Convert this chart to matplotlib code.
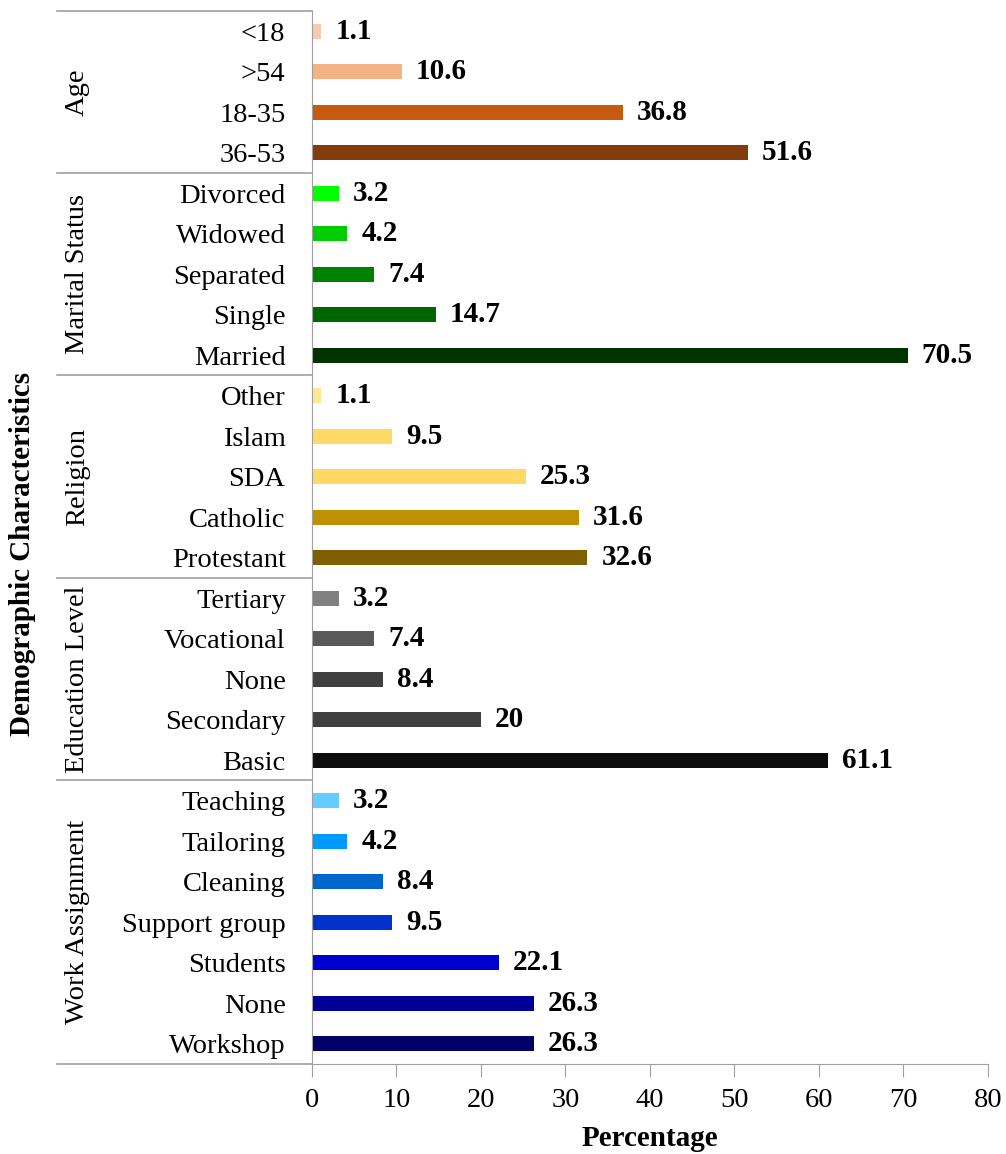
import matplotlib.pyplot as plt
import matplotlib.transforms as mtransforms

plt.rcParams['font.family'] = ['Liberation Serif', 'DejaVu Serif']

# data, top to bottom
groups = ['Age', 'Marital Status', 'Religion', 'Education Level', 'Work Assignment']
age_labels = ['<18', '>54', '18-35', '36-53']
age_values = [1.1, 10.6, 36.8, 51.6]
marital_labels = ['Divorced', 'Widowed', 'Separated', 'Single', 'Married']
marital_values = [3.2, 4.2, 7.4, 14.7, 70.5]
religion_labels = ['Other', 'Islam', 'SDA', 'Catholic', 'Protestant']
religion_values = [1.1, 9.5, 25.3, 31.6, 32.6]
education_labels = ['Tertiary', 'Vocational', 'None', 'Secondary', 'Basic']
education_values = [3.2, 7.4, 8.4, 20, 61.1]
work_labels = ['Teaching', 'Tailoring', 'Cleaning', 'Support group', 'Students', 'None', 'Workshop']
work_values = [3.2, 4.2, 8.4, 9.5, 22.1, 26.3, 26.3]

age_colors = ['#F8CBAD', '#F4B183', '#C55A11', '#843C0C']
marital_colors = ['#00FF00', '#00CC00', '#008000', '#006600', '#003300']
religion_colors = ['#FFE699', '#FFD966', '#FFD966', '#BF9000', '#7F6000']
education_colors = ['#808080', '#595959', '#404040', '#404040', '#0D0D0D']
work_colors = ['#66CCFF', '#0099FF', '#0066CC', '#0033CC', '#0000CC', '#000099', '#000066']

group_labels = [age_labels, marital_labels, religion_labels, education_labels, work_labels]
group_values = [age_values, marital_values, religion_values, education_values, work_values]
group_colors = [age_colors, marital_colors, religion_colors, education_colors, work_colors]

labels = sum(group_labels, [])
values = sum(group_values, [])
colors = sum(group_colors, [])
pos = list(range(len(labels)))

fs = 20.5

fig = plt.figure(figsize=(10.06, 11.54), dpi=100)
ax = fig.add_axes([0.3101, 0.078, 0.672, 0.9125])

ax.barh(pos, values, height=0.38, color=colors)
for y, v in zip(pos, values):
    ax.annotate(f'{v:g}', (v, y), xytext=(10, 0), textcoords='offset points',
                va='center', ha='left', fontsize=21, fontweight='bold')

ax.set_ylim(len(labels) - 0.5, -0.5)
ax.set_xlim(0, 80)
ax.set_xticks(range(0, 81, 10))
ax.set_yticks(pos)
ax.set_yticklabels(labels, fontsize=fs)
ax.tick_params(axis='y', length=0, pad=19)
ax.tick_params(axis='x', length=9, color='#A0A0A0', labelsize=fs, pad=8)
for s in ['top', 'right']:
    ax.spines[s].set_visible(False)
for s in ['left', 'bottom']:
    ax.spines[s].set_color('#A0A0A0')

ax.set_xlabel('Percentage', fontsize=21, fontweight='bold', labelpad=9)

# group separators and group names
trans = mtransforms.blended_transform_factory(fig.transFigure, ax.transData)
start = 0
ax.plot([0.0567, 0.3101], [-0.5, -0.5], transform=trans, color='#A0A0A0', lw=1.2, clip_on=False)
for name, lab in zip(groups, group_labels):
    end = start + len(lab)
    ax.plot([0.0567, 0.3101], [end - 0.5, end - 0.5], transform=trans,
            color='#A0A0A0', lw=1.2, clip_on=False)
    ax.text(0.077, (start + end - 1) / 2, name, transform=trans, rotation=90,
            ha='center', va='center', fontsize=fs)
    start = end

fig.text(0.022, 0.52, 'Demographic Characteristics', rotation=90, ha='center',
         va='center', fontsize=21, fontweight='bold')

fig.savefig('out.png', dpi=100)
